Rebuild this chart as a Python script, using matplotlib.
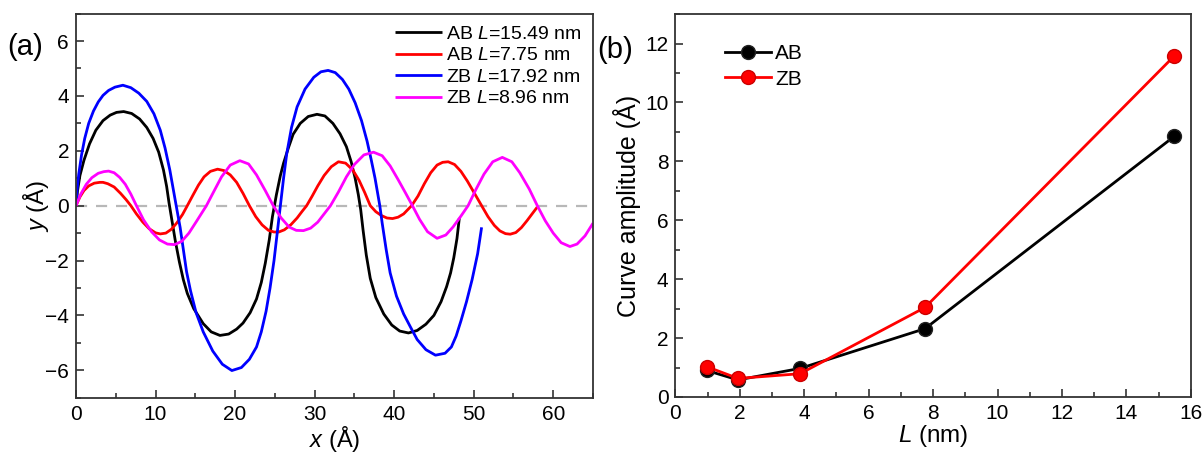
import numpy as np
import matplotlib.pyplot as plt
from matplotlib.ticker import MultipleLocator

plt.rcParams['font.family'] = ['Liberation Sans', 'DejaVu Sans']
plt.rcParams['mathtext.fontset'] = 'custom'
plt.rcParams['mathtext.it'] = 'Liberation Sans:italic'
plt.rcParams['mathtext.rm'] = 'Liberation Sans'

# panel (a): curve shapes y(x)
ab1_x = [0, 0.2, 0.5, 1, 1.7, 2.5, 3.4, 4.3, 5.1, 6, 7, 8, 8.9, 9.7, 10.4, 11, 11.4, 11.7,
         12.1, 12.5, 13, 13.5, 14, 14.8, 16, 17, 18.1, 19.2, 20.2, 21, 21.9, 22.7, 23.3,
         23.8, 24.3, 24.7, 25.2, 25.7, 26.1, 26.7, 27.3, 28.2, 29.2, 30.3, 31.3, 32.3,
         33.2, 34, 34.6, 35.1, 35.5, 35.8, 36.1, 36.5, 37, 37.7, 38.7, 39.7, 40.7, 41.8,
         42.9, 44, 45, 45.9, 46.6, 47.1, 47.5, 47.9, 48.2]
ab1_y = [0, 0.55, 1.1, 1.65, 2.25, 2.75, 3.1, 3.3, 3.4, 3.43, 3.36, 3.16, 2.85, 2.45,
         1.95, 1.3, 0.7, 0.1, -0.6, -1.3, -2.05, -2.7, -3.2, -3.75, -4.3, -4.6, -4.73,
         -4.68, -4.5, -4.28, -3.9, -3.4, -2.8, -2.1, -1.25, -0.4, 0.4, 1.1, 1.55, 2.1,
         2.6, 3.0, 3.25, 3.33, 3.27, 3.0, 2.62, 2.15, 1.6, 1.0, 0.4, -0.15, -0.9, -1.8,
         -2.65, -3.35, -3.95, -4.35, -4.57, -4.64, -4.55, -4.32, -4.0, -3.5, -2.95, -2.45,
         -1.9, -1.2, -0.45]

ab2_x = [0, 0.5, 1, 1.6, 2.3, 3, 3.4, 4, 4.8, 5.6, 6.3, 6.9, 7.6, 8.4, 9.2, 10, 10.6,
         11.3, 12, 12.7, 13.4, 14, 14.7, 15.4, 16.1, 16.9, 17.8, 18.6, 19.4, 20.2, 21,
         21.8, 22.6, 23.4, 24.2, 24.9, 25.5, 26.2, 27, 27.8, 28.4, 29, 29.7, 30.4, 31.2,
         32.1, 33, 33.9, 34.8, 35.6, 36.3, 37, 37.7, 38.4, 39.1, 39.8, 40.5, 41.2, 42.2,
         43, 43.8, 44.6, 45.4, 46.1, 46.8, 47.6, 48.4, 49.2, 50.1, 51, 51.8, 52.6, 53.3,
         54, 54.6, 55.3, 56, 56.7, 57.4, 58]
ab2_y = [0, 0.32, 0.55, 0.72, 0.82, 0.85, 0.85, 0.8, 0.68, 0.45, 0.22, 0, -0.3, -0.6,
         -0.84, -0.99, -1.03, -1.0, -0.86, -0.62, -0.32, 0, 0.38, 0.75, 1.05, 1.25, 1.33,
         1.28, 1.12, 0.85, 0.45, 0, -0.4, -0.7, -0.9, -0.96, -0.96, -0.88, -0.7, -0.45,
         -0.22, 0, 0.35, 0.72, 1.1, 1.42, 1.6, 1.55, 1.3, 0.92, 0.48, 0, -0.22, -0.36,
         -0.45, -0.47, -0.42, -0.3, 0, 0.35, 0.8, 1.2, 1.48, 1.58, 1.6, 1.5, 1.25, 0.9,
         0.45, 0, -0.4, -0.72, -0.92, -1.02, -1.04, -0.98, -0.8, -0.55, -0.28, -0.05]

zb1_x = [0, 0.15, 0.35, 0.7, 1.1, 1.6, 2.2, 2.8, 3.4, 4.1, 4.9, 5.9, 6.9, 7.9, 8.9,
         9.8, 10.6, 11.2, 11.8, 12.2, 12.6, 13.1, 13.5, 13.9, 14.4, 15.1, 16, 17.2,
         18.4, 19.6, 20.8, 21.8, 22.7, 23.3, 23.9, 24.4, 24.9, 25.3, 25.7, 26.1, 26.5,
         27.1, 27.8, 28.8, 29.9, 30.8, 31.7, 32.6, 33.5, 34.3, 35.1, 35.9, 36.6, 37.1,
         37.6, 37.9, 38.2, 38.5, 39, 39.5, 40.3, 41.2, 42.1, 42.9, 44, 45.2, 46.4, 47.2,
         47.8, 48.4, 49.1, 49.8, 50.5, 51]
zb1_y = [0, 0.6, 1.15, 1.85, 2.45, 3.0, 3.45, 3.78, 4.02, 4.2, 4.32, 4.39, 4.3, 4.1, 3.8,
         3.35, 2.75, 2.1, 1.3, 0.65, 0, -0.8, -1.6, -2.4, -3.1, -3.9, -4.6, -5.3, -5.78,
         -6.01, -5.9, -5.6, -5.15, -4.6, -3.85, -3.0, -2.0, -1.0, 0, 1.0, 1.9, 2.85,
         3.6, 4.25, 4.68, 4.88, 4.93, 4.85, 4.6, 4.25, 3.75, 3.1, 2.35, 1.7, 1.0, 0.5,
         0, -0.64, -1.6, -2.45, -3.3, -3.95, -4.45, -4.88, -5.25, -5.45, -5.38, -5.15,
         -4.75, -4.2, -3.5, -2.7, -1.75, -0.79]

zb2_x = [0, 0.6, 1.3, 2, 2.8, 3.5, 4.1, 4.8, 5.5, 6.2, 6.9, 7.6, 8.5, 9.5, 10.5, 11.5,
         12.4, 13.3, 14.2, 15.2, 16.4, 17.3, 18.3, 19.4, 20.6, 21.7, 22.7, 23.8, 24.8,
         25.8, 26.8, 27.7, 28.6, 29.5, 30.4, 31.2, 32, 33, 34, 35, 36.2, 37.4, 38.5,
         39.5, 40.5, 41.4, 42.3, 43.2, 44.2, 45.4, 46.5, 47.4, 48.4, 49.3, 50.3, 51.3,
         52.4, 53.6, 54.8, 55.8, 57, 58, 59, 60, 61, 62.1, 63, 64, 65]
zb2_y = [0, 0.42, 0.78, 1.02, 1.18, 1.24, 1.26, 1.2, 1.03, 0.78, 0.42, 0, -0.52, -0.95,
         -1.25, -1.4, -1.42, -1.3, -1.0, -0.55, 0, 0.5, 1.05, 1.48, 1.64, 1.52, 1.12,
         0.55, 0, -0.45, -0.78, -0.9, -0.91, -0.82, -0.6, -0.3, 0, 0.5, 1.05, 1.5, 1.85,
         1.95, 1.82, 1.45, 0.95, 0.48, 0, -0.5, -0.95, -1.19, -1.07, -0.78, -0.38, 0,
         0.6, 1.15, 1.6, 1.76, 1.6, 1.2, 0.6, 0, -0.55, -1.0, -1.35, -1.49, -1.4, -1.1,
         -0.64]

labels_a = ['AB $\\it{L}$=15.49 nm', 'AB $\\it{L}$=7.75 nm',
            'ZB $\\it{L}$=17.92 nm', 'ZB $\\it{L}$=8.96 nm']
colors_a = ['black', '#ff0000', '#0000ff', '#ff00ff']

# panel (b): amplitude vs length
L_nm = [0.97, 1.94, 3.87, 7.75, 15.49]
amp_ab = [0.9, 0.58, 0.97, 2.32, 8.85]
amp_zb = [1.03, 0.63, 0.79, 3.04, 11.58]

fig = plt.figure(figsize=(12.04, 4.54), dpi=100)
ax1 = fig.add_axes([0.0631, 0.124, 0.4294, 0.846])
ax2 = fig.add_axes([0.561, 0.1256, 0.428, 0.8434])

ax1.axhline(0, color='#b8b8b8', lw=1.6, ls=(0, (5, 4)), zorder=1)
for xs, ys, c, lab in zip([ab1_x, ab2_x, zb1_x, zb2_x], [ab1_y, ab2_y, zb1_y, zb2_y],
                          colors_a, labels_a):
    ax1.plot(xs, ys, color=c, lw=2.0, label=lab, solid_capstyle='butt',
             solid_joinstyle='round')
ax1.set_xlim(0, 65)
ax1.set_ylim(-7, 7)
ax1.xaxis.set_major_locator(MultipleLocator(10))
ax1.xaxis.set_minor_locator(MultipleLocator(5))
ax1.yaxis.set_major_locator(MultipleLocator(2))
ax1.yaxis.set_minor_locator(MultipleLocator(1))
ax1.set_xlabel('$\\it{x}$ (Å)', fontsize=17, labelpad=0)
ax1.set_ylabel('$\\it{y}$ (Å)', fontsize=17, labelpad=-4)
ax1.legend(loc='upper right', frameon=False, fontsize=14, handlelength=2.4,
           handletextpad=0.2, labelspacing=0.2, borderaxespad=0.2)

ax2.plot(L_nm, amp_ab, color='black', lw=2.0, marker='o', ms=10, mfc='black',
         mec='#222222', label='AB')
ax2.plot(L_nm, amp_zb, color='#ff0000', lw=2.0, marker='o', ms=10, mfc='#ff0000',
         mec='#cc0000', label='ZB')
ax2.set_xlim(0, 16)
ax2.set_ylim(0, 13)
ax2.xaxis.set_major_locator(MultipleLocator(2))
ax2.xaxis.set_minor_locator(MultipleLocator(1))
ax2.yaxis.set_major_locator(MultipleLocator(2))
ax2.yaxis.set_minor_locator(MultipleLocator(1))
ax2.set_xlabel('$\\it{L}$ (nm)', fontsize=17.5, labelpad=0)
ax2.set_ylabel('Curve amplitude (Å)', fontsize=18, labelpad=3)
ax2.legend(loc='upper left', frameon=False, fontsize=15, handlelength=2.2,
           handletextpad=0.2, labelspacing=0.3, bbox_to_anchor=(0.06, 0.97))

for ax in (ax1, ax2):
    for sp in ax.spines.values():
        sp.set_color('#333333')
        sp.set_linewidth(1.3)
    ax.tick_params(which='both', direction='in', top=False, right=False,
                   color='#333333', labelsize=15, width=1.2)
    ax.tick_params(which='major', length=6, pad=5)
    ax.tick_params(which='minor', length=3.5)

fig.text(0.006, 0.878, '(a)', fontsize=21)
fig.text(0.496, 0.872, '(b)', fontsize=21)

fig.savefig('out.png', dpi=100)
